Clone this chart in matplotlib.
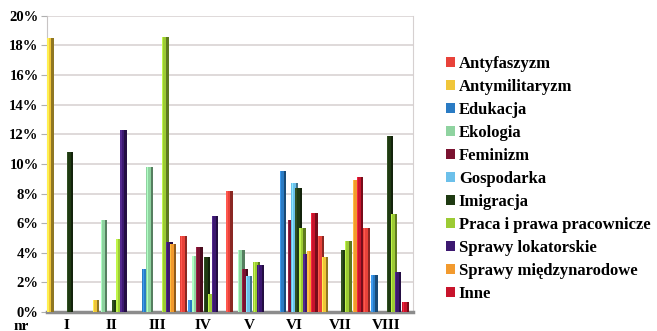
import numpy as np
import matplotlib.pyplot as plt
import matplotlib.colors as mcolors
from matplotlib.patches import Patch

plt.rcParams['font.family'] = ['Liberation Serif', 'DejaVu Serif']

groups = ['I', 'II', 'III', 'IV', 'V', 'VI', 'VII', 'VIII']

names = ['Antyfaszyzm', 'Antymilitaryzm', 'Edukacja', 'Ekologia', 'Feminizm',
         'Gospodarka', 'Imigracja', 'Praca i prawa pracownicze',
         'Sprawy lokatorskie', 'Sprawy międzynarodowe', 'Inne']

antyfaszyzm = [0, 0, 0, 5.1, 8.2, 0, 5.1, 5.7]
antymilitaryzm = [18.5, 0.8, 0, 0, 0, 0, 3.7, 0]
edukacja = [0, 0, 2.9, 0.8, 0, 9.5, 0, 2.5]
ekologia = [0, 6.2, 9.8, 3.8, 4.2, 0, 0, 0]
feminizm = [0, 0, 0, 4.4, 2.9, 6.2, 0, 0]
gospodarka = [0, 0, 0, 0, 2.4, 8.7, 0, 0]
imigracja = [10.8, 0.8, 0, 3.7, 0, 8.4, 4.2, 11.9]
praca = [0, 4.9, 18.6, 1.2, 3.4, 5.7, 4.8, 6.6]
lokatorskie = [0, 12.3, 4.7, 6.5, 3.2, 3.9, 0, 2.7]
miedzynarodowe = [0, 0, 4.6, 0, 0, 4.1, 8.9, 0]
inne = [0, 0, 0, 0, 0, 6.7, 9.1, 0.7]

series = [antyfaszyzm, antymilitaryzm, edukacja, ekologia, feminizm, gospodarka,
          imigracja, praca, lokatorskie, miedzynarodowe, inne]

colors = ['#e8423a', '#f0c63a', '#2a7bc4', '#8fd3a0', '#7a1230', '#6cc0ea',
          '#1f3a12', '#9ccb34', '#3c1870', '#f29a2e', '#c8142c']

fig = plt.figure(figsize=(6.57, 3.31), dpi=100)
ax = fig.add_axes([0.0715, 0.0574, 0.5575, 0.8946])

x = np.arange(len(groups))
slot = 0.0853
bw = slot * 1.7

for k, (vals, col) in enumerate(zip(series, colors)):
    pos = x + (k - 5) * slot
    dark = np.array(mcolors.to_rgb(col)) * 0.6
    light = np.clip(np.array(mcolors.to_rgb(col)) * 1.15 + 0.05, 0, 1)
    for p, v in zip(pos, vals):
        if v <= 0:
            continue
        # front face, shaded side and a light rim to fake the 3D look
        ax.bar(p, v, width=bw, color=col, linewidth=0, zorder=3)
        ax.bar(p + bw * 0.32, v, width=bw * 0.36, color=dark, linewidth=0, zorder=3)
        ax.bar(p - bw * 0.38, v, width=bw * 0.2, color=light, linewidth=0, zorder=3)

ax.set_xlim(-0.416, 7.59)
ax.set_ylim(0, 20)
ax.set_yticks(range(0, 21, 2))
ax.set_yticklabels([f'{t}%' for t in range(0, 21, 2)], fontsize=10.5, fontweight='bold')
ax.set_xticks(x)
ax.set_xticklabels(groups, fontsize=11, fontweight='bold')
ax.tick_params(axis='x', length=0, pad=5)
ax.tick_params(axis='y', length=4, color='#b0b0b0', pad=2)
ax.yaxis.grid(True, color='#d6d0d0', linewidth=1.1, zorder=0)

ax.spines['top'].set_visible(False)
ax.spines['left'].set_color('#c8c4c4')
ax.spines['right'].set_color('#d6d0d0')
ax.spines['bottom'].set_color('#8c8c8c')
ax.spines['bottom'].set_linewidth(2.5)

fig.text(0.02, 0.015, 'nr', fontsize=11, fontweight='bold', va='center')

handles = [Patch(facecolor=c, edgecolor='none') for c in colors]
fig.legend(handles, names, loc='upper left', bbox_to_anchor=(0.668, 0.85),
           frameon=False, prop={'size': 12, 'weight': 'bold'},
           handlelength=0.55, handleheight=0.55,
           handletextpad=0.25, labelspacing=0.42, borderaxespad=0)

fig.savefig('out.png', dpi=100)
